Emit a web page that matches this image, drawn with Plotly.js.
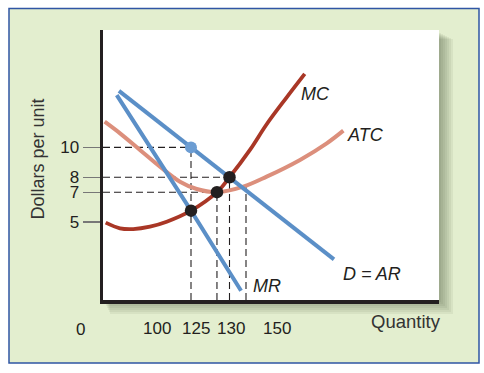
<!DOCTYPE html>
<html>
<head>
<meta charset="utf-8">
<script src="https://cdn.plot.ly/plotly-3.0.1.min.js"></script>
<style>html,body{margin:0;padding:0;background:#fff;}#chart{width:484px;height:373px;}</style>
</head>
<body>
<div id="chart"></div>
<script>
// ---- data (diagram units: stylised quantity axis, dollars per unit) ----
const qLabels = ['100', '125', '130', '150'];
const qPos = [100, 123.6, 135, 150];          // where each labelled quantity sits on the stylised axis
const priceTicks = [10, 8, 7, 5];

const demandQ = [34.5, 100, 230];
const demandP = [13.78, 10, 2.5];

const mrQ = [32.5, 100, 145.5];
const mrP = [13.5, 5.76, 0.4];

const mcQ = [22.45, 35.45, 47.5, 62.7, 77.9, 100, 123.6, 135, 153.6, 168.8, 187.0, 203.4];
const mcP = [4.96, 4.58, 4.53, 4.69, 5.02, 5.76, 7.0, 8.0, 9.83, 11.55, 13.35, 14.92];

const atcQ = [21.5, 35.5, 53.6, 71.8, 90.0, 105.2, 123.6, 147.5, 168.8, 199.1, 223.4, 238.5];
const atcP = [11.72, 10.94, 9.83, 8.71, 7.70, 7.21, 7.0, 7.37, 8.04, 9.16, 10.27, 11.12];

const dotQ = [100, 123.6, 135];
const dotP = [5.76, 7, 8];
const demandDotQ = [100];
const demandDotP = [10];

// guide lines
const hGuideP = [10, 8, 7];
const hGuideQ = [100, 135, 123.6];
const vGuideQ = [100, 123.6, 135, 150];
const vGuideTop = [10, 7, 8, 7.45];

// ---- layout helpers ----
const L = 103, T = 30, R = 439, B = 300;
const PW = R - L, PH = B - T;
const X0 = 20, X1 = 325.45, Y0 = -0.22, Y1 = 17.86;
const px2x = px => (px - L) / PW;
const py2y = py => (B - py) / PH;

const blue = '#5b8fc7', blueDot = '#6c9dd3', red = '#a93726', salmon = '#dc8f7c', ink = '#231f20';
const FONT = 'Liberation Sans, Arial, Helvetica, sans-serif';

const traces = [];
// dashed guides
hGuideP.forEach((p, i) => traces.push({x: [X0, hGuideQ[i]], y: [p, p], mode: 'lines',
  line: {color: ink, width: 1.1, dash: '7px,4px'}, hoverinfo: 'skip'}));
vGuideQ.forEach((q, i) => traces.push({x: [q, q], y: [Y0, vGuideTop[i]], mode: 'lines',
  line: {color: ink, width: 1.1, dash: '7px,4px'}, hoverinfo: 'skip'}));
// curves
traces.push({x: atcQ, y: atcP, mode: 'lines', line: {color: salmon, width: 4, shape: 'spline', smoothing: 1}});
traces.push({x: mcQ, y: mcP, mode: 'lines', line: {color: red, width: 3.8, shape: 'spline', smoothing: 1}});
traces.push({x: demandQ, y: demandP, mode: 'lines', line: {color: blue, width: 4}});
traces.push({x: mrQ, y: mrP, mode: 'lines', line: {color: blue, width: 4}});
// dots
traces.push({x: demandDotQ, y: demandDotP, mode: 'markers', marker: {color: blueDot, size: 12}});
traces.push({x: dotQ, y: dotP, mode: 'markers', marker: {color: ink, size: 12.5}});

// shapes: green panel, soft shadow, white plot panel
const shapes = [];
shapes.push({type: 'rect', xref: 'paper', yref: 'paper', layer: 'below',
  x0: px2x(9), x1: px2x(479), y0: py2y(363), y1: py2y(8.5),
  fillcolor: '#e3eecf', line: {color: '#2f55a4', width: 1.5}});
for (let i = 1; i <= 7; i++) {
  shapes.push({type: 'rect', xref: 'paper', yref: 'paper', layer: 'below',
    x0: px2x(L + i), x1: px2x(R + 2 * i), y0: py2y(B + 2 * i), y1: py2y(T + 2 + i),
    fillcolor: 'rgba(70,85,50,0.075)', line: {width: 0}});
}
shapes.push({type: 'rect', xref: 'paper', yref: 'paper', layer: 'below',
  x0: 0, x1: 1, y0: 0, y1: 1, fillcolor: '#ffffff', line: {width: 0}});

// leader lines from quantity labels to the axis
const leadDX = [-24, -14.5, 0, 22.5];
qPos.forEach((q, i) => shapes.push({type: 'line', xref: 'x', yref: 'y',
  xsizemode: 'pixel', xanchor: q, ysizemode: 'pixel', yanchor: Y0,
  x0: 0, y0: -1.5, x1: leadDX[i], y1: -12.5, line: {color: '#555', width: 1}}));

const annotations = [];
const labShift = [-34, -21.2, 1.3, 30.5];
qLabels.forEach((t, i) => annotations.push({text: t, xref: 'x', yref: 'paper', x: qPos[i], y: 0,
  xshift: labShift[i], yshift: -28.5, showarrow: false, xanchor: 'center', yanchor: 'middle',
  font: {family: FONT, size: 17, color: ink}}));
annotations.push({text: '0', xref: 'paper', yref: 'paper', x: px2x(80), y: 0, yshift: -29,
  showarrow: false, xanchor: 'center', yanchor: 'middle', font: {family: FONT, size: 17, color: ink}});
annotations.push({text: 'Quantity', xref: 'paper', yref: 'paper', x: px2x(406), y: py2y(321.5),
  showarrow: false, xanchor: 'center', yanchor: 'middle', font: {family: FONT, size: 18.5, color: '#333'}});
annotations.push({text: 'Dollars per unit', xref: 'paper', yref: 'paper', x: px2x(37.5), y: py2y(159),
  textangle: -90, showarrow: false, xanchor: 'center', yanchor: 'middle', font: {family: FONT, size: 18, color: '#333'}});
const curveLabels = [
  {t: 'MC', q: 213.6, p: 13.56},
  {t: 'ATC', q: 258.6, p: 10.83},
  {t: 'D = AR', q: 264.5, p: 1.54},
  {t: 'MR', q: 169.1, p: 0.75}
];
curveLabels.forEach(c => annotations.push({text: '<i>' + c.t + '</i>', x: c.q, y: c.p, xref: 'x', yref: 'y',
  showarrow: false, xanchor: 'center', yanchor: 'middle', font: {family: FONT, size: 18, color: ink}}));

const layout = {
  width: 484, height: 373,
  margin: {l: L, r: 484 - R, t: T, b: 373 - B, pad: 0},
  paper_bgcolor: '#ffffff', plot_bgcolor: 'rgba(0,0,0,0)',
  showlegend: false,
  font: {family: FONT, color: ink},
  xaxis: {range: [X0, X1], showgrid: false, zeroline: false, showline: true, linecolor: ink, linewidth: 3.5,
    ticks: '', showticklabels: false, fixedrange: true},
  yaxis: {range: [Y0, Y1], showgrid: false, zeroline: false, showline: true, linecolor: ink, linewidth: 3.5,
    tickmode: 'array', tickvals: priceTicks, ticktext: priceTicks.map(String), ticks: 'outside', ticklen: 17,
    tickwidth: 1.2, tickcolor: '#777', tickfont: {family: FONT, size: 17, color: ink}, fixedrange: true},
  shapes: shapes,
  annotations: annotations
};

Plotly.newPlot('chart', traces, layout, {staticPlot: true, displayModeBar: false});
</script>
</body>
</html>
